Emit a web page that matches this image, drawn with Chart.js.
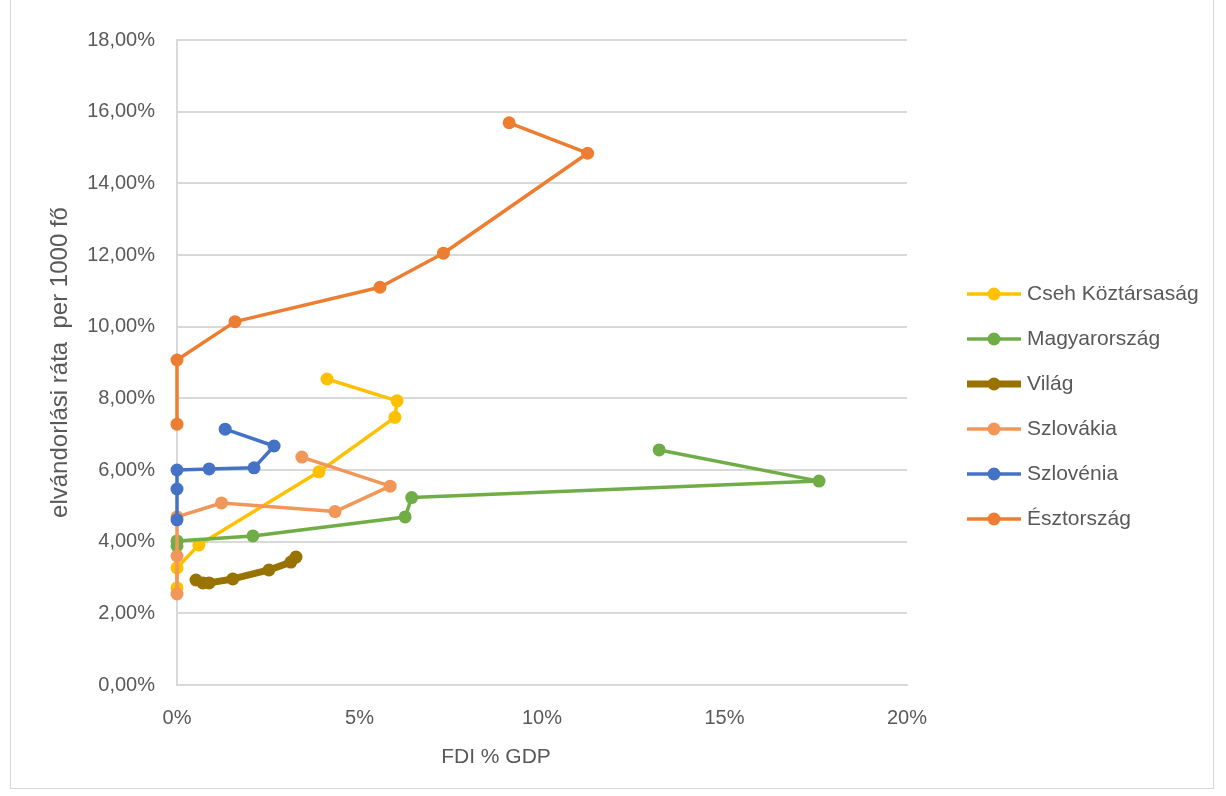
<!DOCTYPE html>
<html>
<head>
<meta charset="utf-8">
<script src="https://cdn.jsdelivr.net/npm/chart.js@4.4.1/dist/chart.umd.min.js"></script>
<style>
  html, body { margin: 0; padding: 0; background: #fff; }
  #wrap { position: relative; width: 1226px; height: 796px; }
  #frame { position: absolute; left: 10px; top: -2px; width: 1204px; height: 791px; border: 1px solid #d9d9d9; box-sizing: border-box; pointer-events: none; }
</style>
</head>
<body>
<div id="wrap">
  <canvas id="canvas" width="1226" height="796"></canvas>
  <div id="frame"></div>
</div>
<script>
// FDI % GDP (x) vs. elvándorlási ráta (y), both in percent
const seriesNames = ["Cseh Köztársaság", "Magyarország", "Világ", "Szlovákia", "Szlovénia", "Észtország"];

const fdiCseh = [0, 0, 0.60, 3.89, 5.97, 6.03, 4.11];
const rateCseh = [2.71, 3.27, 3.91, 5.95, 7.47, 7.93, 8.54];

const fdiMagyar = [0, 0, 2.08, 6.25, 6.43, 17.59, 13.21];
const rateMagyar = [3.88, 4.02, 4.16, 4.69, 5.23, 5.69, 6.56];

const fdiVilag = [0.52, 0.71, 0.88, 1.53, 2.52, 3.12, 3.26];
const rateVilag = [2.93, 2.85, 2.85, 2.96, 3.21, 3.43, 3.57];

const fdiSzlovakia = [0, 0, 0, 1.22, 4.33, 5.84, 3.42];
const rateSzlovakia = [2.54, 3.60, 4.69, 5.08, 4.84, 5.55, 6.36];

const fdiSzlovenia = [0, 0, 0, 0.88, 2.11, 2.66, 1.32];
const rateSzlovenia = [4.61, 5.47, 6.00, 6.03, 6.06, 6.67, 7.14];

const fdiEsztorszag = [0, 0, 1.59, 5.56, 7.30, 11.25, 9.10];
const rateEsztorszag = [7.28, 9.07, 10.14, 11.10, 12.05, 14.84, 15.69];

const xTicks = [0, 5, 10, 15, 20];
const yTicks = [0, 2, 4, 6, 8, 10, 12, 14, 16, 18];

const colors = ["#FFC000", "#70AD47", "#997300", "#F1975A", "#4472C4", "#ED7D31"];
const widths = [3.5, 3.5, 7, 3.5, 3.5, 3.5];

const FONT = '"Liberation Sans", Arial, sans-serif';
const TEXT = "#595959";

function pairs(xs, ys) {
    return xs.map((x, i) => ({ x: x, y: ys[i] }));
}

const allData = [
    pairs(fdiCseh, rateCseh),
    pairs(fdiMagyar, rateMagyar),
    pairs(fdiVilag, rateVilag),
    pairs(fdiSzlovakia, rateSzlovakia),
    pairs(fdiSzlovenia, rateSzlovenia),
    pairs(fdiEsztorszag, rateEsztorszag)
];

const datasets = allData.map((d, i) => ({
    label: seriesNames[i],
    data: d,
    showLine: true,
    clip: false,
    borderColor: colors[i],
    backgroundColor: colors[i],
    borderWidth: widths[i],
    borderJoinStyle: "round",
    borderCapStyle: "round",
    pointRadius: 6.5,
    pointBorderWidth: 0,
    tension: 0,
    order: seriesNames.length - i // later series on top, like Excel
}));

// legend (line with a marker, then the name) and the x axis title,
// which sits left of the plot centre in the original
const extras = {
    id: 'extras',
    afterDraw(chart) {
        const ctx = chart.ctx;
        const area = chart.chartArea;
        const x0 = area.right + 60;
        const rowH = 45;
        const n = chart.data.datasets.length;
        let y = chart.height / 2 + 8.5 - (n - 1) * rowH / 2;
        ctx.save();
        ctx.font = '21px ' + FONT;
        ctx.textBaseline = 'middle';
        ctx.textAlign = 'left';
        chart.data.datasets.forEach(ds => {
            ctx.strokeStyle = ds.borderColor;
            ctx.lineWidth = ds.borderWidth;
            ctx.beginPath();
            ctx.moveTo(x0, y);
            ctx.lineTo(x0 + 54, y);
            ctx.stroke();
            ctx.fillStyle = ds.backgroundColor;
            ctx.beginPath();
            ctx.arc(x0 + 27, y, ds.pointRadius, 0, Math.PI * 2);
            ctx.fill();
            ctx.fillStyle = TEXT;
            ctx.fillText(ds.label, x0 + 60, y);
            y += rowH;
        });

        ctx.textAlign = 'center';
        ctx.fillText("FDI % GDP", area.left + 319, area.bottom + 72);
        ctx.restore();
    }
};

const canvas = document.getElementById("canvas");
const ctx = canvas.getContext("2d");

new Chart(ctx, {
    type: "scatter",
    data: { datasets: datasets },
    options: {
        responsive: false,
        animation: false,
        layout: {
            padding: { left: 10, top: 40, right: 319, bottom: 0 }
        },
        plugins: {
            legend: { display: false },
            tooltip: { enabled: false }
        },
        scales: {
            x: {
                type: "linear",
                min: 0,
                max: 20,
                afterBuildTicks: s => { s.ticks = xTicks.map(v => ({ value: v })); },
                afterFit: s => { s.height = 111; },
                grid: { display: false, drawTicks: false },
                border: { display: true, color: "#d9d9d9", width: 2 },
                ticks: {
                    color: TEXT,
                    font: { family: FONT, size: 20 },
                    padding: 21,
                    maxRotation: 0,
                    callback: v => v + "%"
                }
            },
            y: {
                type: "linear",
                min: 0,
                max: 18,
                afterBuildTicks: s => { s.ticks = yTicks.map(v => ({ value: v })); },
                afterFit: s => { s.width = 167; },
                grid: { color: "#d9d9d9", lineWidth: 2, drawTicks: false },
                border: { display: true, color: "#d9d9d9", width: 2 },
                ticks: {
                    color: TEXT,
                    font: { family: FONT, size: 20 },
                    padding: 22,
                    callback: v => v.toFixed(2).replace(".", ",") + "%"
                },
                title: {
                    display: true,
                    text: "elvándorlási ráta  per 1000 fő",
                    color: TEXT,
                    font: { family: FONT, size: 24 },
                    padding: { top: 36, bottom: 0 }
                }
            }
        }
    },
    plugins: [extras]
});
</script>
</body>
</html>
